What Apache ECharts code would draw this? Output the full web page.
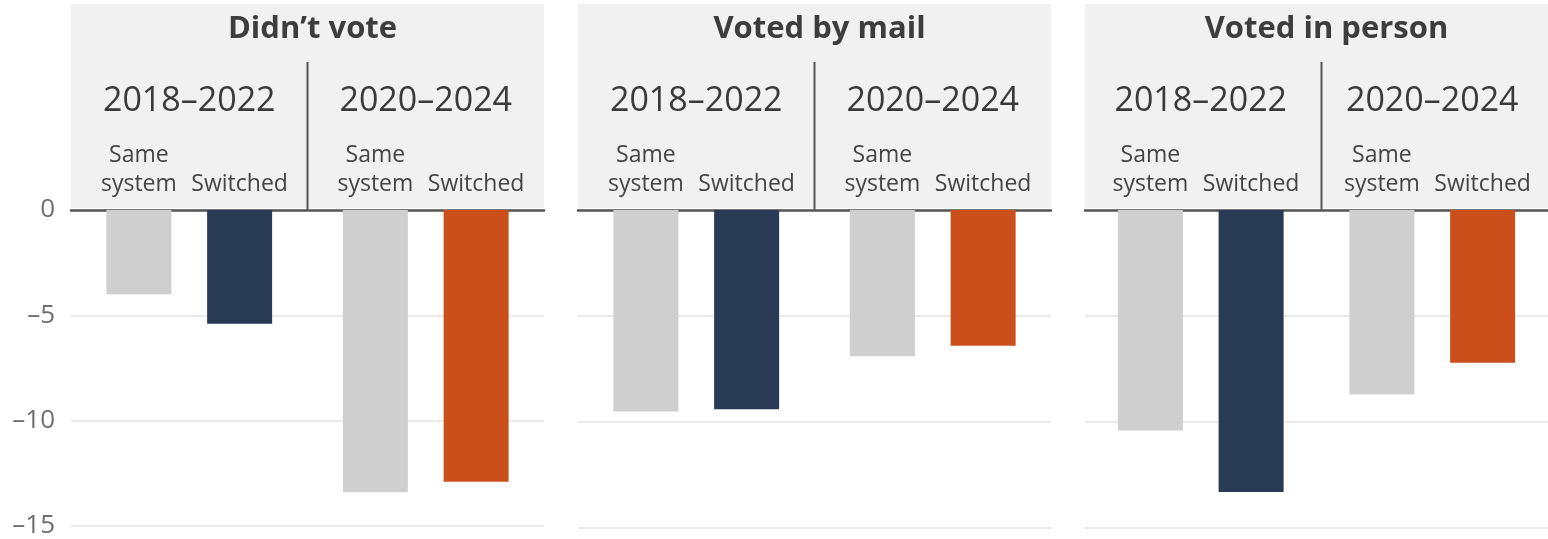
<!DOCTYPE html>
<html>
<head>
<meta charset="utf-8">
<script src="https://cdn.jsdelivr.net/npm/echarts@6/dist/echarts.min.js"></script>
<style>
html, body { margin: 0; padding: 0; background: #fff; }
#chart { width: 1548px; height: 539px; }
</style>
</head>
<body>
<div id="chart"></div>
<script>
// data
var panels = ['Didn’t vote', 'Voted by mail', 'Voted in person'];
var periods = ['2018–2022', '2020–2024'];
var barNames = ['Same\nsystem', 'Switched'];
var sameSystem = [[-4.0, -13.4], [-9.5, -6.9], [-10.4, -8.7]];
var switched = [[-5.4, -12.9], [-9.4, -6.4], [-13.3, -7.2]];
var yTicks = [0, -5, -10, -15];

var gray = '#cfcfcf';
var switchColors = ['#293a54', '#cb4f1b'];
var font = '"Open Sans", sans-serif';
var panelLefts = [71, 578, 1085];
var panelWidth = 473;
var gridTop = 210, gridBottom = 11;

var grids = [], xAxes = [], yAxes = [], series = [], titles = [], graphics = [];

panelLefts.forEach(function (left, i) {
  grids.push({left: left, width: panelWidth, top: gridTop, bottom: gridBottom});

  // grey header box + divider
  graphics.push({
    type: 'rect', z: -1,
    shape: {x: left, y: 4, width: panelWidth, height: gridTop - 6},
    style: {fill: '#f1f1f1'}
  });
  graphics.push({
    type: 'line', z: 1,
    shape: {x1: left + panelWidth / 2, y1: 62, x2: left + panelWidth / 2, y2: gridTop},
    style: {stroke: '#555', lineWidth: 2}
  });

  titles.push({
    text: panels[i],
    left: left + panelWidth / 2,
    top: 9,
    textAlign: 'center',
    textStyle: {fontFamily: font, fontSize: 31, fontWeight: 'bold', color: '#3d3d3d'}
  });

  xAxes.push({
    gridIndex: i,
    type: 'category',
    data: periods,
    position: 'top',
    axisLine: {lineStyle: {color: '#555', width: 2.5}},
    axisTick: {show: false},
    axisLabel: {margin: 92, fontFamily: font, fontSize: 34, color: '#3a3a3a'}
  });

  yAxes.push({
    gridIndex: i,
    type: 'value',
    min: yTicks[yTicks.length - 1],
    max: yTicks[0],
    interval: 5,
    axisLine: {show: false},
    axisTick: {show: false},
    axisLabel: {
      show: i === 0,
      margin: 16,
      fontFamily: font,
      fontSize: 26,
      color: '#6f6f6f',
      formatter: function (v) { return v < 0 ? '–' + Math.abs(v) : String(v); }
    },
    splitLine: {lineStyle: {color: '#ebebeb', width: 2}}
  });

  var labelStyle = {
    show: true, position: 'top', distance: 11,
    fontFamily: font, fontSize: 23, lineHeight: 29, color: '#444'
  };

  series.push({
    name: 'Same system',
    type: 'bar',
    xAxisIndex: i,
    yAxisIndex: i,
    barWidth: 65,
    barGap: '55%',
    itemStyle: {color: gray},
    label: Object.assign({formatter: barNames[0]}, labelStyle),
    data: sameSystem[i]
  });
  series.push({
    name: 'Switched',
    type: 'bar',
    xAxisIndex: i,
    yAxisIndex: i,
    barWidth: 65,
    barGap: '55%',
    label: Object.assign({formatter: barNames[1]}, labelStyle),
    data: switched[i].map(function (v, k) {
      return {value: v, itemStyle: {color: switchColors[k]}};
    })
  });
});

var chart = echarts.init(document.getElementById('chart'));
chart.setOption({
  animation: false,
  title: titles,
  grid: grids,
  xAxis: xAxes,
  yAxis: yAxes,
  graphic: graphics,
  series: series
});
</script>
</body>
</html>
